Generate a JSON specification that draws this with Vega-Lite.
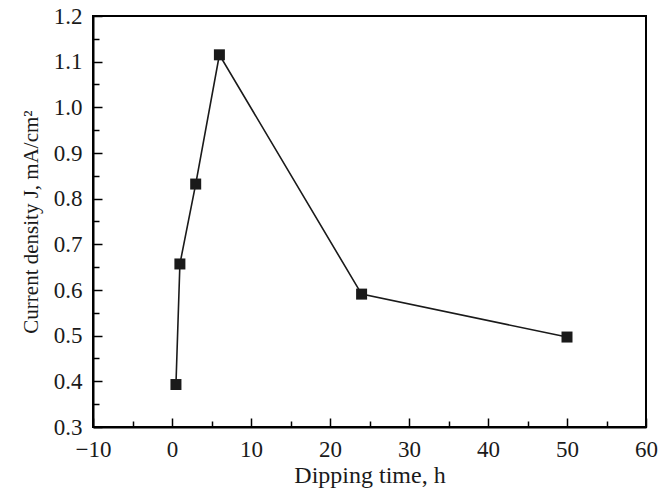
{
  "$schema": "https://vega.github.io/schema/vega-lite/v6.json",
  "width": 553,
  "height": 411,
  "autosize": "none",
  "padding": {"left": 93, "top": 16, "right": 26, "bottom": 68},
  "background": "white",
  "config": {
    "view": {"stroke": "black", "strokeWidth": 2},
    "font": "Liberation Serif"
  },
  "data": {
    "values": [
      {"t": 0.5, "J": 0.393},
      {"t": 1, "J": 0.657},
      {"t": 3, "J": 0.832},
      {"t": 6, "J": 1.115},
      {"t": 24, "J": 0.591},
      {"t": 50, "J": 0.497}
    ]
  },
  "encoding": {
    "x": {
      "field": "t",
      "type": "quantitative",
      "scale": {"domain": [-10, 60], "nice": false, "zero": false},
      "axis": {
        "title": "Dipping time, h",
        "values": [-10, -5, 0, 5, 10, 15, 20, 25, 30, 35, 40, 45, 50, 55, 60],
        "labelExpr": "datum.value % 10 == 0 ? format(datum.value, 'd') : ''",
        "grid": false,
        "domainColor": "black",
        "domainWidth": 2,
        "tickColor": "black",
        "tickWidth": 1.5,
        "tickSize": {"condition": {"test": "datum.value % 10 != 0", "value": -6}, "value": -9},
        "labelFont": "Liberation Serif",
        "labelFontSize": 23,
        "labelColor": "#1a1a1a",
        "labelPadding": 20,
        "labelFlush": false,
        "labelOverlap": false,
        "titleFont": "Liberation Serif",
        "titleFontSize": 24,
        "titleFontWeight": "normal",
        "titleColor": "#1a1a1a",
        "titleBaseline": "alphabetic",
        "titleY": 55
      }
    },
    "y": {
      "field": "J",
      "type": "quantitative",
      "scale": {"domain": [0.3, 1.2], "nice": false, "zero": false},
      "axis": {
        "title": "Current density J, mA/cm²",
        "values": [0.3, 0.35, 0.4, 0.45, 0.5, 0.55, 0.6, 0.65, 0.7, 0.75, 0.8, 0.85, 0.9, 0.95, 1.0, 1.05, 1.1, 1.15, 1.2],
        "labelExpr": "abs(round(datum.value * 100) % 10) < 1 ? format(datum.value, '.1f') : ''",
        "grid": false,
        "domainColor": "black",
        "domainWidth": 2,
        "tickColor": "black",
        "tickWidth": 1.5,
        "tickSize": {"condition": {"test": "abs(round(datum.value * 100) % 10) >= 1", "value": -6}, "value": -9},
        "labelFont": "Liberation Serif",
        "labelFontSize": 23,
        "labelColor": "#1a1a1a",
        "labelPadding": 20,
        "labelFlush": false,
        "labelOverlap": false,
        "titleFont": "Liberation Serif",
        "titleFontSize": 21,
        "titleFontWeight": "normal",
        "titleColor": "#1a1a1a",
        "titlePadding": 12
      }
    }
  },
  "layer": [
    {"mark": {"type": "line", "color": "#1a1a1a", "strokeWidth": 1.6}},
    {"mark": {"type": "point", "shape": "square", "filled": true, "size": 121, "color": "#1a1a1a", "opacity": 1}}
  ]
}
